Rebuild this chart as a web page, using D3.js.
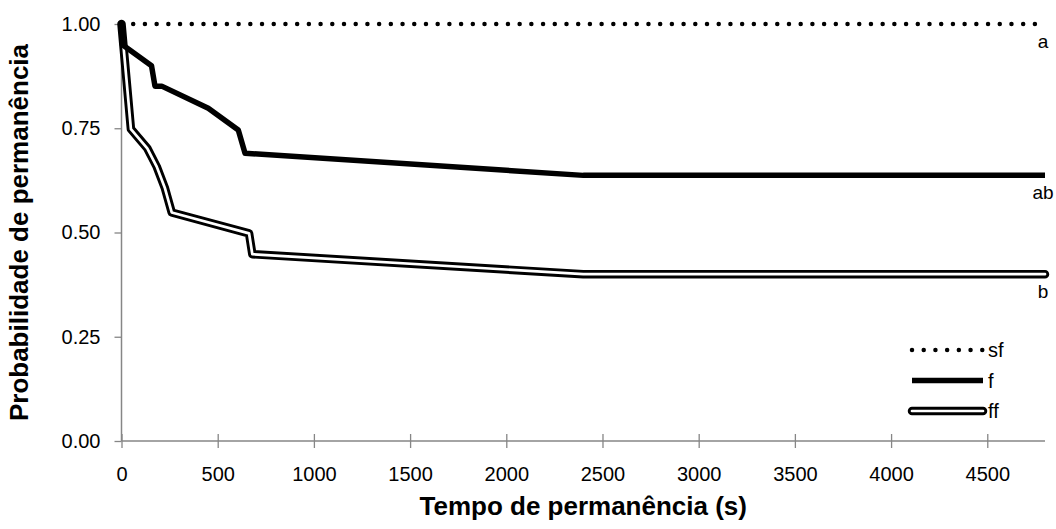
<!DOCTYPE html>
<html>
<head>
<meta charset="utf-8">
<script src="https://cdn.jsdelivr.net/npm/d3@7"></script>
<style>
  body { margin: 0; background: #fff; }
  text { font-family: Arial, "Liberation Sans", sans-serif; fill: #000; }
</style>
</head>
<body>
<svg id="chart" width="1056" height="529"></svg>
<script>
// values
var tempoSF = [0, 4800];
var probSF  = [1.00, 1.00];

var tempoF = [0, 5, 156, 174, 209, 451, 607, 642, 2400, 4800];
var probF  = [1.00, 0.95, 0.90, 0.851, 0.851, 0.798, 0.746, 0.690, 0.637, 0.637];

var tempoFF = [0, 49, 134, 183, 226, 261, 663, 680, 2400, 4800];
var probFF  = [1.00, 0.748, 0.702, 0.658, 0.606, 0.548, 0.498, 0.448, 0.400, 0.400];

var xTicks = [0, 500, 1000, 1500, 2000, 2500, 3000, 3500, 4000, 4500];
var yTicks = [0, 0.25, 0.5, 0.75, 1];

var seriesNames = ["sf", "f", "ff"];
var letters = ["a", "ab", "b"];

var svg = d3.select("#chart");

var x = d3.scaleLinear().domain([0, 4800]).range([121.5, 1045]);
var y = d3.scaleLinear().domain([0, 1]).range([441, 24]);

function zip(xs, ys) {
	return xs.map(function(v, i) { return [v, ys[i]]; });
}

var line = d3.line()
	.x(function(d) { return x(d[0]); })
	.y(function(d) { return y(d[1]); });

// ==================== Axes ====================
var axisColor = "#868686";

var yAxis = svg.append("g")
	.attr("transform", "translate(" + x(0) + ",0)")
	.call(d3.axisLeft(y).tickValues(yTicks).tickFormat(d3.format(".2f")).tickSize(7).tickPadding(14));

var xAxis = svg.append("g")
	.attr("transform", "translate(0," + y(0) + ")")
	.call(d3.axisBottom(x).tickValues(xTicks).tickFormat(d3.format("d")).tickSize(7).tickPadding(19));

[xAxis, yAxis].forEach(function(a) {
	a.select(".domain").attr("stroke", axisColor).attr("stroke-width", 1.5);
	a.selectAll(".tick line").attr("stroke", axisColor).attr("stroke-width", 1.3);
	a.selectAll(".tick text").attr("font-size", 20).attr("font-family", "Arial, 'Liberation Sans', sans-serif").attr("fill", "#000");
});
// x ticks cross the axis line
xAxis.selectAll(".tick line").attr("y1", -7);
xAxis.select(".domain").attr("d", "M" + x(0) + ",0H" + x(4800));
yAxis.select(".domain").attr("d", "M0," + y(0) + "V" + y(1));

// ==================== Series ====================
var plot = svg.append("g").attr("fill", "none");

function drawSF(g, pts) {
	g.append("path").attr("d", line(pts))
		.attr("stroke", "#000").attr("stroke-width", 4.5)
		.attr("stroke-linecap", "round").attr("stroke-dasharray", "0.01 11.7");
}
function drawF(g, pts) {
	g.append("path").attr("d", line(pts))
		.attr("stroke", "#000").attr("stroke-width", 5.5)
		.attr("stroke-linejoin", "round");
}
function drawFF(g, pts) {
	g.append("path").attr("d", line(pts))
		.attr("stroke", "#000").attr("stroke-width", 8.5)
		.attr("stroke-linejoin", "round").attr("stroke-linecap", "round");
	g.append("path").attr("d", line(pts))
		.attr("stroke", "#fff").attr("stroke-width", 2.7)
		.attr("stroke-linejoin", "round").attr("stroke-linecap", "round");
}

drawFF(plot, zip(tempoFF, probFF));
drawF(plot, zip(tempoF, probF));
drawSF(plot, zip(tempoSF, probSF));

// ==================== Letters at right ====================
var letterVals = [probSF[probSF.length - 1], probF[probF.length - 1], probFF[probFF.length - 1]];
svg.selectAll(".letter")
	.data(letters)
	.enter()
	.append("text")
		.attr("class", "letter")
		.attr("x", x(4800) - 2)
		.attr("y", function(d, i) { return y(letterVals[i]) + 24; })
		.attr("text-anchor", "middle")
		.attr("font-size", 19)
		.attr("fill", "#222")
		.text(function(d) { return d; });

// ==================== Legend ====================
var legend = svg.append("g").attr("transform", "translate(912,350)").attr("fill", "none");
seriesNames.forEach(function(name, i) {
	var gy = i * 30.5;
	var g = legend.append("g").attr("transform", "translate(0," + gy + ")");
	var pts = [[0, 0], [71, 0]];
	var lx = d3.line();
	if (i === 0) {
		g.append("path").attr("d", lx(pts)).attr("stroke", "#000").attr("stroke-width", 4.5)
			.attr("stroke-linecap", "round").attr("stroke-dasharray", "0.01 11.7");
	} else if (i === 1) {
		g.append("path").attr("d", lx(pts)).attr("stroke", "#000").attr("stroke-width", 5.5);
	} else {
		g.append("path").attr("d", lx(pts)).attr("stroke", "#000").attr("stroke-width", 8.5).attr("stroke-linecap", "round");
		g.append("path").attr("d", lx(pts)).attr("stroke", "#fff").attr("stroke-width", 2.7).attr("stroke-linecap", "round");
	}
	g.append("text").attr("x", 76).attr("y", 7).attr("font-size", 20).attr("fill", "#000").text(name);
});

// ==================== Axis titles ====================
svg.append("text")
	.attr("x", (x(0) + x(4800)) / 2)
	.attr("y", 515)
	.attr("text-anchor", "middle")
	.attr("font-size", 26)
	.attr("font-weight", "bold")
	.text("Tempo de permanência (s)");

svg.append("text")
	.attr("transform", "translate(28," + (y(0) + y(1)) / 2 + ") rotate(-90)")
	.attr("text-anchor", "middle")
	.attr("font-size", 26)
	.attr("font-weight", "bold")
	.text("Probabilidade de permanência");
</script>
</body>
</html>
